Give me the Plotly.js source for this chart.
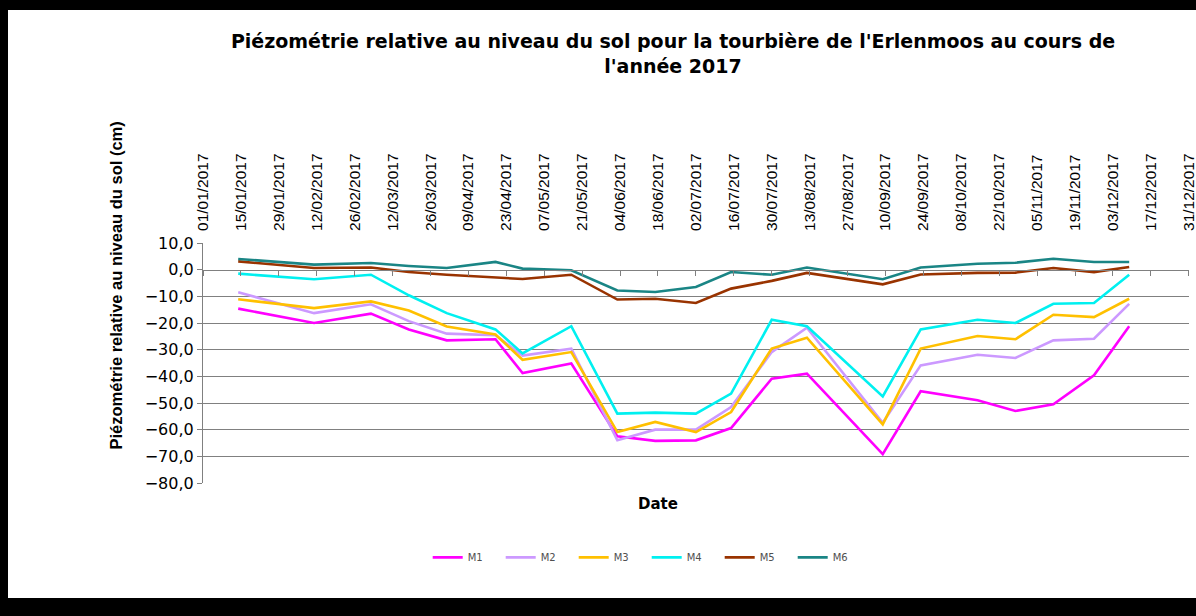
<!DOCTYPE html>
<html>
<head>
<meta charset="utf-8">
<script src="https://cdn.plot.ly/plotly-3.0.1.min.js"></script>
<style>
  html, body { margin: 0; padding: 0; background: #000; width: 1196px; height: 616px; overflow: hidden; }
  #chart { position: absolute; left: 8px; top: 10px; width: 1188px; height: 588px; background: #fff; }
</style>
</head>
<body>
<div id="chart"></div>
<script>
// ---- Data ----
const dates = ['2017-01-14','2017-02-11','2017-03-04','2017-03-18','2017-04-01','2017-04-19','2017-04-29',
               '2017-05-17','2017-06-03','2017-06-17','2017-07-02','2017-07-15','2017-07-30','2017-08-12',
               '2017-09-09','2017-09-23','2017-10-14','2017-10-28','2017-11-11','2017-11-26','2017-12-09'];
const M1 = [-14.6,-20,-16.5,-22.4,-26.5,-26.1,-38.8,-35.2,-62.5,-64.2,-64,-59.4,-40.9,-39,-69.2,-45.6,-49,-53,-50.5,-39.6,-21.2];
const M2 = [-8.5,-16.3,-13,-19.3,-24,-24.6,-32.2,-29.6,-64,-60,-60,-51.5,-30.9,-21.8,-57.4,-35.9,-31.9,-33.1,-26.5,-25.9,-12.8];
const M3 = [-11.1,-14.4,-11.9,-15.3,-21.3,-24.3,-33.8,-30.9,-60.9,-57.1,-60.9,-53.4,-29.6,-25.5,-58,-29.6,-24.9,-26.1,-16.9,-17.8,-10.9];
const M4 = [-1.5,-3.6,-1.9,-9.6,-16.3,-22.4,-31.4,-21.2,-54,-53.6,-54,-46.5,-18.8,-21.2,-47.5,-22.4,-18.8,-20,-12.8,-12.5,-1.9];
const M5 = [3.1,0.6,0.8,-0.9,-1.9,-2.8,-3.5,-1.9,-11.2,-10.9,-12.5,-7.1,-4.2,-1.2,-5.5,-1.8,-1.2,-1.1,0.6,-0.9,1];
const M6 = [4,1.9,2.5,1.4,0.6,2.9,0.4,-0.2,-7.8,-8.4,-6.5,-0.9,-1.9,0.8,-3.6,0.8,2.2,2.6,4.1,2.9,2.9];

const seriesNames = ['M1','M2','M3','M4','M5','M6'];
const seriesValues = [M1, M2, M3, M4, M5, M6];
const seriesColors = ['#FF00FF','#CC99FF','#FFC000','#00F0F0','#993300','#1A8585'];

const xRange = ['2017-01-01','2017-12-31 02:00'];
const yRange = [-80, 10];
const gridValues = [-70,-60,-50,-40,-30,-20,-10];
const tickStart = '2017-01-01';
const tickStepDays = 14;

const titleText = "Piézométrie relative au niveau du sol pour la tourbière de l'Erlenmoos au cours de<br>l'année 2017";
const yTitleText = 'Piézométrie relative au niveau du sol (cm)';
const xTitleText = 'Date';

// ---- Traces ----
const traces = seriesNames.map((n, i) => ({
  type: 'scatter', mode: 'lines', name: n,
  x: dates, y: seriesValues[i],
  line: { color: seriesColors[i], width: 2.6 },
  hoverinfo: 'x+y+name'
}));
// helper (empty) trace so the overlay axes (x-axis line at 0, gridlines) exist
traces.push({ type: 'scatter', mode: 'lines', x: [], y: [], xaxis: 'x2', yaxis: 'y2', showlegend: false, hoverinfo: 'skip' });

const dtick = tickStepDays * 86400000;
const axisGrey = '#808080';

const layout = {
  width: 1188, height: 588,
  paper_bgcolor: '#ffffff', plot_bgcolor: '#ffffff',
  margin: { l: 195, r: 7, t: 233, b: 115 },
  separators: ',.',
  font: { family: 'Liberation Sans, Arial, sans-serif', color: '#000' },
  title: {
    text: titleText,
    font: { family: 'DejaVu Sans, sans-serif', size: 19, color: '#000', weight: 'bold' },
    xref: 'paper', x: 0.4767, xanchor: 'center',
    yref: 'container', y: 0.935, yanchor: 'top'
  },
  xaxis: {
    type: 'date', range: xRange, side: 'top',
    tick0: tickStart, dtick: dtick, tickformat: '%d/%m/%Y', tickangle: -90,
    ticks: '', showline: false, showgrid: false, zeroline: false,
    ticklabelstandoff: 11, ticklabeloverflow: 'allow',
    tickfont: { family: 'Liberation Sans, Arial, sans-serif', size: 15.5, color: '#000' }
  },
  xaxis2: {
    type: 'date', range: xRange, overlaying: 'x', anchor: 'free', position: 0.8889, side: 'bottom',
    tick0: tickStart, dtick: dtick, ticks: 'outside', ticklen: 5, tickcolor: axisGrey, tickwidth: 1,
    showline: true, linecolor: axisGrey, linewidth: 1.2,
    showticklabels: false, showgrid: false, zeroline: false
  },
  yaxis: {
    range: yRange, dtick: 10, tick0: 0, tickformat: '.1f',
    showgrid: false, zeroline: false, showline: true, linecolor: axisGrey, linewidth: 1.2,
    ticks: 'outside', ticklen: 5, tickcolor: axisGrey,
    tickfont: { family: 'DejaVu Sans, sans-serif', size: 16, color: '#000' }
  },
  yaxis2: {
    range: yRange, overlaying: 'y', tickvals: gridValues,
    showgrid: true, gridcolor: '#808080', gridwidth: 1.3,
    showticklabels: false, ticks: '', showline: false, zeroline: false
  },
  showlegend: true,
  legend: {
    orientation: 'h', x: 0.45, xanchor: 'center', y: -0.31, yanchor: 'middle',
    entrywidth: 28, entrywidthmode: 'pixels',
    font: { family: 'DejaVu Sans, sans-serif', size: 10, color: '#505050' },
    bgcolor: 'rgba(0,0,0,0)'
  },
  annotations: [
    { text: yTitleText, xref: 'paper', yref: 'paper', x: -0.0882, y: 0.823,
      xanchor: 'center', yanchor: 'middle', textangle: -90, showarrow: false,
      font: { family: 'Liberation Sans, Arial, sans-serif', size: 16.5, color: '#000', weight: 'bold' } },
    { text: xTitleText, xref: 'paper', yref: 'paper', x: 0.4615, y: -0.089,
      xanchor: 'center', yanchor: 'middle', showarrow: false,
      font: { family: 'DejaVu Sans, sans-serif', size: 15, color: '#000', weight: 'bold' } }
  ]
};

Plotly.newPlot('chart', traces, layout, { displayModeBar: false, responsive: false });
</script>
</body>
</html>
